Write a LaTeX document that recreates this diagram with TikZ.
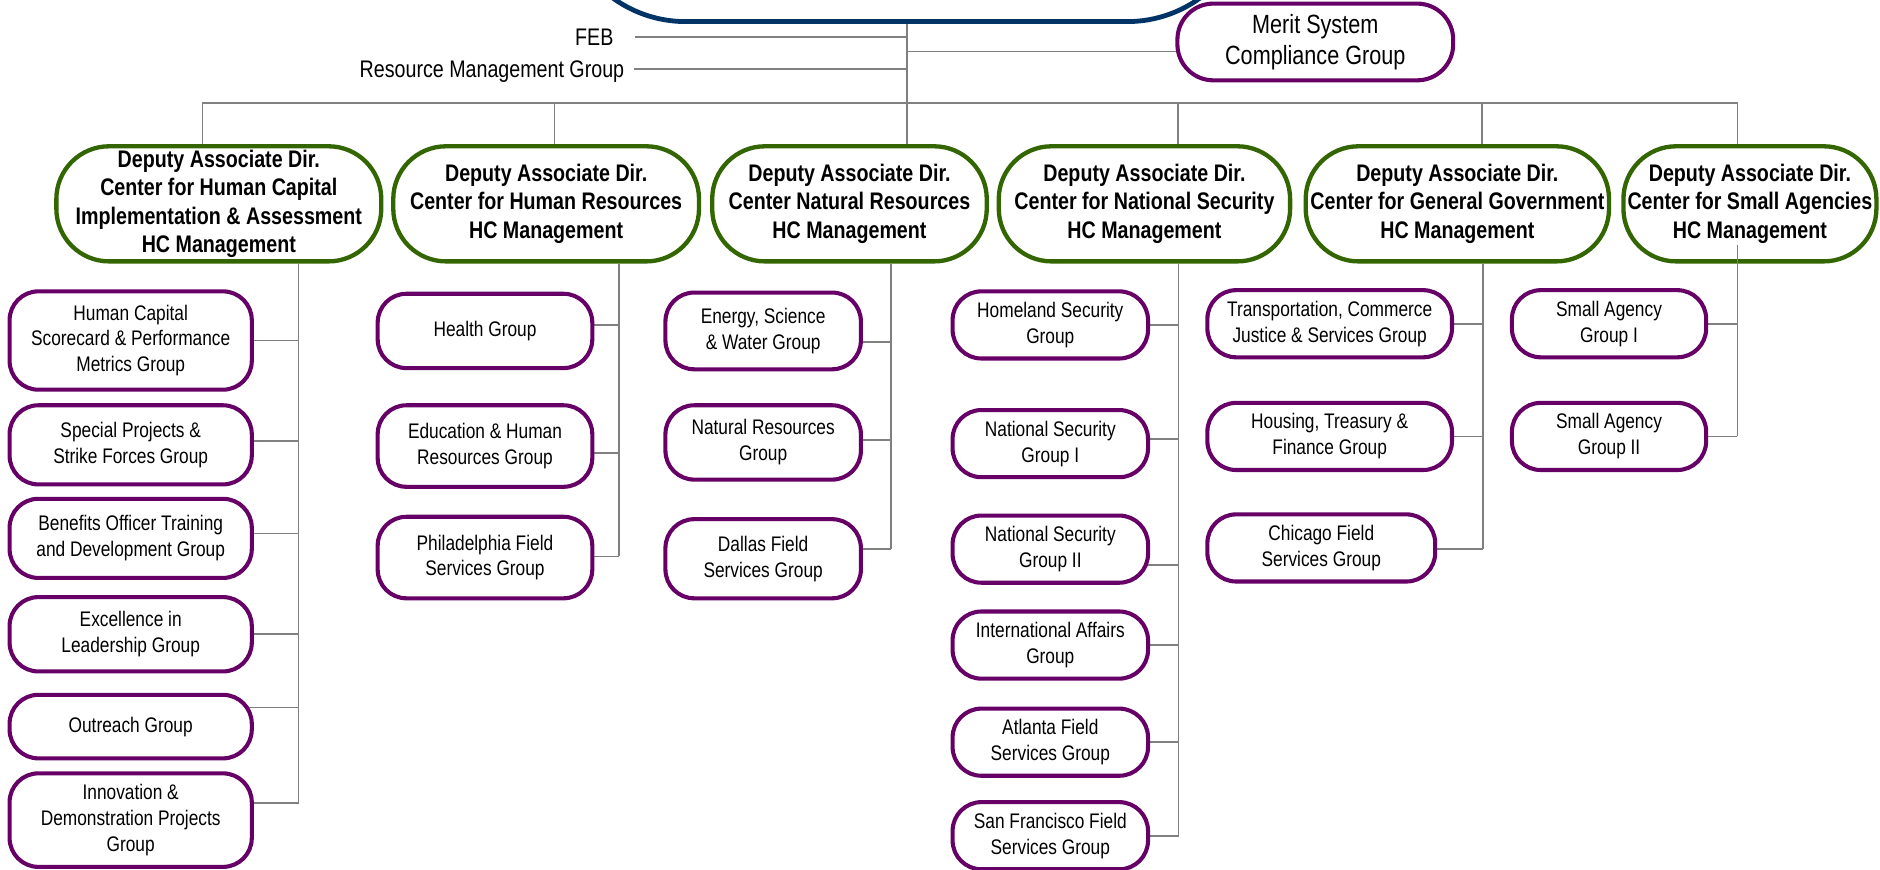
\documentclass[tikz,border=0pt]{standalone}
\usepackage{fontspec}
\setmainfont{Liberation Sans}[FakeStretch=0.82]
\usetikzlibrary{backgrounds}
\definecolor{dirblue}{HTML}{003366}
\definecolor{dadgreen}{HTML}{336600}
\definecolor{grppurple}{HTML}{660066}
\definecolor{linegray}{HTML}{808080}
\tikzstyle{conn} = [draw=linegray, line width=0.7pt]
\tikzstyle{dad} = [rectangle, rounded corners=22pt, draw=dadgreen, line width=1.8pt, fill=white, align=center, inner sep=0pt, minimum height=48pt, font=\bfseries\fontsize{10}{11.8}\selectfont]
\tikzstyle{grp} = [rectangle, rounded corners=12pt, draw=grppurple, line width=1.7pt, fill=white, align=center, inner sep=0pt, font=\fontsize{8.8}{10.8}\selectfont]
\tikzstyle{lbl} = [inner sep=0pt, text height=7.2pt, text depth=0pt, font=\fontsize{10}{12}\selectfont]

\begin{document}
\begin{tikzpicture}[x=0.5pt, y=-0.5pt]
\useasboundingbox (0,0) rectangle (1568,725);

% Define nodes
\node[rectangle, rounded corners=52pt, draw=dirblue, line width=2pt, fill=white, minimum width=288pt, minimum height=120pt] (dir) at (756,-102) {};
\node[grp, rounded corners=15pt, font=\fontsize{11}{13}\selectfont, minimum width=115pt, minimum height=32pt] (msc) at (1097,35) {Merit System\\Compliance Group};
\node[lbl, anchor=east] (feb) at (512,31) {FEB};
\node[lbl, anchor=east] (rmg) at (521,57.5) {Resource Management Group};
\coordinate (trunk) at (756.5,86);

\node[dad, minimum width=135.5pt] (hci) at (182.5,170) {Deputy Associate Dir.\\Center for Human Capital\\Implementation \& Assessment\\HC Management};
\node[dad, minimum width=127.5pt] (hr)  at (455.5,170) {Deputy Associate Dir.\\Center for Human Resources\\HC Management};
\node[dad, minimum width=114.5pt] (nr)  at (708.5,170) {Deputy Associate Dir.\\Center Natural Resources\\HC Management};
\node[dad, minimum width=121.5pt] (ns)  at (954.5,170) {Deputy Associate Dir.\\Center for National Security\\HC Management};
\node[dad, minimum width=126.5pt] (gg)  at (1215.5,170) {Deputy Associate Dir.\\Center for General Government\\HC Management};
\node[dad, minimum width=105.5pt] (sa)  at (1459.5,170) {Deputy Associate Dir.\\Center for Small Agencies\\HC Management};

% human capital groups
\node[grp, minimum width=101pt, minimum height=41pt]   (hci1) at (109,284) {Human Capital\\Scorecard \& Performance\\Metrics Group};
\node[grp, minimum width=101pt, minimum height=33pt]   (hci2) at (109,371) {Special Projects \&\\Strike Forces Group};
\node[grp, minimum width=101pt, minimum height=33pt]   (hci3) at (109,449) {Benefits Officer Training\\and Development Group};
\node[grp, minimum width=101pt, minimum height=31pt]   (hci4) at (109,529) {Excellence in\\Leadership Group};
\node[grp, minimum width=101pt, minimum height=26.5pt] (hci5) at (109,606) {Outreach Group};
\node[grp, minimum width=101pt, minimum height=39pt]   (hci6) at (109,684) {Innovation \&\\Demonstration Projects\\Group};

% human resources groups
\node[grp, minimum width=89.5pt, minimum height=31pt] (hr1) at (404.5,276) {Health Group};
\node[grp, minimum width=89.5pt, minimum height=34pt] (hr2) at (404.5,372) {Education \& Human\\Resources Group};
\node[grp, minimum width=89.5pt, minimum height=34pt] (hr3) at (404.5,465) {Philadelphia Field\\Services Group};

% natural resources groups
\node[grp, minimum width=81.5pt, minimum height=32pt] (nr1) at (636.5,276) {Energy, Science\\\& Water Group};
\node[grp, minimum width=81.5pt, minimum height=31pt] (nr2) at (636.5,369) {Natural Resources\\Group};
\node[grp, minimum width=81.5pt, minimum height=33pt] (nr3) at (636.5,466) {Dallas Field\\Services Group};

% national security groups
\node[grp, minimum width=81.5pt, minimum height=28pt] (ns1) at (876,271) {Homeland Security\\Group};
\node[grp, minimum width=81.5pt, minimum height=28pt] (ns2) at (876,370) {National Security\\Group I};
\node[grp, minimum width=81.5pt, minimum height=28pt] (ns3) at (876,458) {National Security\\Group II};
\node[grp, minimum width=81.5pt, minimum height=28pt] (ns4) at (876,538) {International Affairs\\Group};
\node[grp, minimum width=81.5pt, minimum height=28pt] (ns5) at (876,619) {Atlanta Field\\Services Group};
\node[grp, minimum width=81.5pt, minimum height=28pt] (ns6) at (876,697) {San Francisco Field\\Services Group};

% general government groups
\node[grp, minimum width=102pt, minimum height=28pt] (gg1) at (1109,270) {Transportation, Commerce\\Justice \& Services Group};
\node[grp, minimum width=102pt, minimum height=28pt] (gg2) at (1109,364) {Housing, Treasury \&\\Finance Group};
\node[grp, minimum width=95pt,  minimum height=28pt] (gg3) at (1102,457) {Chicago Field\\Services Group};

% small agencies groups
\node[grp, minimum width=81pt, minimum height=28pt] (sa1) at (1342,270) {Small Agency\\Group I};
\node[grp, minimum width=81pt, minimum height=28pt] (sa2) at (1342,364) {Small Agency\\Group II};

% Edges
\begin{scope}[on background layer]
\draw[conn] (dir.south -| trunk) -- (trunk);
\draw[conn] ([xshift=9pt]feb.east) -- (feb.east -| trunk);
\draw[conn] ([xshift=4pt]rmg.east) -- (rmg.east -| trunk);
\draw[conn] (trunk |- 0,43) -- (msc.center |- 0,43);

\draw[conn] (169,0 |- hci.north) |- (trunk);
\draw[conn] (462.5,0 |- hr.north) |- (trunk);
\draw[conn] (trunk) -- (trunk |- nr.north);
\draw[conn] (982.5,0 |- ns.north) |- (trunk);
\draw[conn] (1236,0 |- gg.north) |- (trunk);
\draw[conn] (1449,0 |- sa.north) |- (trunk);

\coordinate (hcis) at (249,670);
\draw[conn] (hci.south -| hcis) -- (hcis);
\draw[conn] (hci1) -- (hci1 -| hcis);
\draw[conn] (hci2.center |- 0,368) -- (hcis |- 0,368);
\draw[conn] (hci3.center |- 0,445) -- (hcis |- 0,445);
\draw[conn] (hci4) -- (hci4 -| hcis);
\draw[conn] (hci5.center |- 0,590) -- (hcis |- 0,590);
\draw[conn] (hci6.center |- 0,670) -- (hcis);

\coordinate (hrs) at (516,464);
\draw[conn] (hr.south -| hrs) -- (hrs);
\draw[conn] (hr1.center |- 0,271) -- (hrs |- 0,271);
\draw[conn] (hr2.center |- 0,378) -- (hrs |- 0,378);
\draw[conn] (hr3.center |- 0,464) -- (hrs);

\coordinate (nrs) at (743,458);
\draw[conn] (nr.south -| nrs) -- (nrs);
\draw[conn] (nr1.center |- 0,285) -- (nrs |- 0,285);
\draw[conn] (nr2.center |- 0,367) -- (nrs |- 0,367);
\draw[conn] (nr3.center |- 0,458) -- (nrs);

\coordinate (nss) at (983,697);
\draw[conn] (ns.south -| nss) -- (nss);
\draw[conn] (ns1) -- (ns1 -| nss);
\draw[conn] (ns2.center |- 0,366) -- (nss |- 0,366);
\draw[conn] (ns3.center |- 0,471) -- (nss |- 0,471);
\draw[conn] (ns4) -- (ns4 -| nss);
\draw[conn] (ns5) -- (ns5 -| nss);
\draw[conn] (ns6) -- (nss);

\coordinate (ggs) at (1237,458);
\draw[conn] (gg.south -| ggs) -- (ggs);
\draw[conn] (gg1) -- (gg1 -| ggs);
\draw[conn] (gg2) -- (gg2 -| ggs);
\draw[conn] (gg3.center |- 0,458) -- (ggs);

\coordinate (sas) at (1449,364);
\draw[conn] (sa1) -- (sa1 -| sas);
\draw[conn] (sa2) -- (sas);
\end{scope}
\draw[conn] (sas |- 0,204) -- (sas);
\end{tikzpicture}
\end{document}
